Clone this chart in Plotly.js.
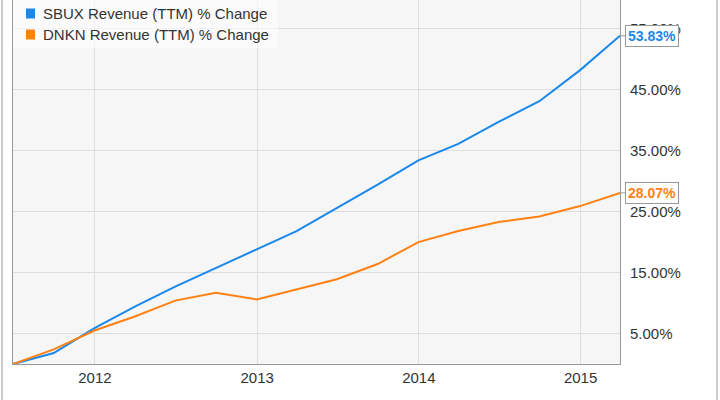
<!DOCTYPE html>
<html>
<head>
<meta charset="utf-8">
<script src="https://cdn.plot.ly/plotly-3.0.1.min.js"></script>
<style>
html, body { margin: 0; padding: 0; background: #ffffff; }
#chart { width: 720px; height: 400px; }
</style>
</head>
<body>
<div id="chart"></div>
<script>
// ---- data ----
var dates = ["2011-06-30","2011-09-30","2011-12-31","2012-03-31","2012-06-30","2012-09-30",
             "2012-12-31","2013-03-31","2013-06-30","2013-09-30","2013-12-31","2014-03-31",
             "2014-06-30","2014-09-30","2014-12-31","2015-03-31"];
var sbux = [0, 1.8, 5.9, 9.4, 12.7, 15.7, 18.8, 21.8, 25.6, 29.4, 33.4, 36.1, 39.7, 43.1, 48.2, 53.83];
var dnkn = [0, 2.4, 5.5, 7.8, 10.4, 11.7, 10.6, 12.2, 13.9, 16.4, 20.0, 21.8, 23.3, 24.2, 25.9, 28.07];
var seriesNames = ["SBUX Revenue (TTM) % Change", "DNKN Revenue (TTM) % Change"];
var seriesColors = ["#1a88ea", "#ff8113"];
var xTickVals = ["2012-01-01","2013-01-01","2014-01-01","2015-01-01"];
var xTickText = ["2012","2013","2014","2015"];
var yTickVals = [5, 15, 25, 35, 45, 55];
var yTickText = ["5.00%", "15.00%", "25.00%", "35.00%", "45.00%", "55.00%"];

var seriesData = [sbux, dnkn];
var FONT = "Liberation Sans, Arial, sans-serif";

var traces = seriesData.map(function (vals, i) {
  return {
    x: dates, y: vals, type: "scatter", mode: "lines", name: seriesNames[i],
    line: { color: seriesColors[i], width: 2 }, showlegend: false, hoverinfo: "skip"
  };
});

var annotations = [];
var shapes = [];

// legend background
shapes.push({ type: "rect", xref: "paper", yref: "paper", x0: 0, x1: 265 / 607, y0: 1 - 48 / 364, y1: 1,
  fillcolor: "rgba(255,255,255,0.6)", line: { width: 0 }, layer: "above" });

// custom legend
seriesNames.forEach(function (nm, i) {
  var cy = -13.5 - 21 * i;
  shapes.push({ type: "rect", xref: "paper", yref: "paper", xsizemode: "pixel", ysizemode: "pixel",
    xanchor: 0, yanchor: 1, x0: 13, x1: 22, y0: cy - 5, y1: cy + 5,
    fillcolor: seriesColors[i], line: { width: 0 }, layer: "above" });
  annotations.push({ xref: "paper", yref: "paper", x: 0, y: 1, xshift: 28, yshift: cy,
    xanchor: "left", yanchor: "middle", showarrow: false, text: nm,
    font: { family: FONT, size: 15, color: "#333333" } });
});

// end-value labels
seriesData.forEach(function (vals, i) {
  var last = vals.length - 1;
  annotations.push({ x: dates[last], y: vals[last], xref: "x", yref: "y",
    text: "<b>" + vals[last].toFixed(2) + "%</b>",
    showarrow: true, arrowhead: 0, arrowwidth: 1, arrowcolor: "#999999", ax: 5, ay: 0,
    xanchor: "left", yanchor: "middle",
    bgcolor: "#ffffff", bordercolor: "#999999", borderwidth: 1, borderpad: 2,
    font: { family: FONT, size: 14, color: seriesColors[i] } });
});

// outer frame lines
[2, 717].forEach(function (px) {
  var xp = (px - 13) / 607;
  shapes.push({ type: "line", xref: "paper", yref: "paper", x0: xp, x1: xp, y0: -36 / 364 - 0.01, y1: 1.01,
    line: { color: "#999999", width: 1 } });
});

var layout = {
  width: 720, height: 400,
  margin: { l: 13, r: 100, t: 0, b: 36 },
  paper_bgcolor: "#ffffff", plot_bgcolor: "#f6f6f6",
  font: { family: FONT, size: 15, color: "#333333" },
  showlegend: false,
  xaxis: {
    type: "date", range: [dates[0], dates[dates.length - 1]],
    tickvals: xTickVals, ticktext: xTickText,
    showgrid: true, gridcolor: "#dddddd", gridwidth: 1,
    showline: true, linecolor: "#999999", linewidth: 1,
    ticks: "", zeroline: false, fixedrange: true,
    tickfont: { family: FONT, size: 15, color: "#333333" }
  },
  yaxis: {
    range: [0, 59.7], side: "right",
    tickmode: "array", tickvals: yTickVals, ticktext: yTickText,
    showgrid: true, gridcolor: "#dddddd", gridwidth: 1,
    showline: true, mirror: true, linecolor: "#999999", linewidth: 1,
    ticks: "", ticklabelstandoff: 6, zeroline: false, fixedrange: true,
    tickfont: { family: FONT, size: 15, color: "#333333" }
  },
  shapes: shapes,
  annotations: annotations
};

Plotly.newPlot("chart", traces, layout, { displayModeBar: false, staticPlot: true });
</script>
</body>
</html>
